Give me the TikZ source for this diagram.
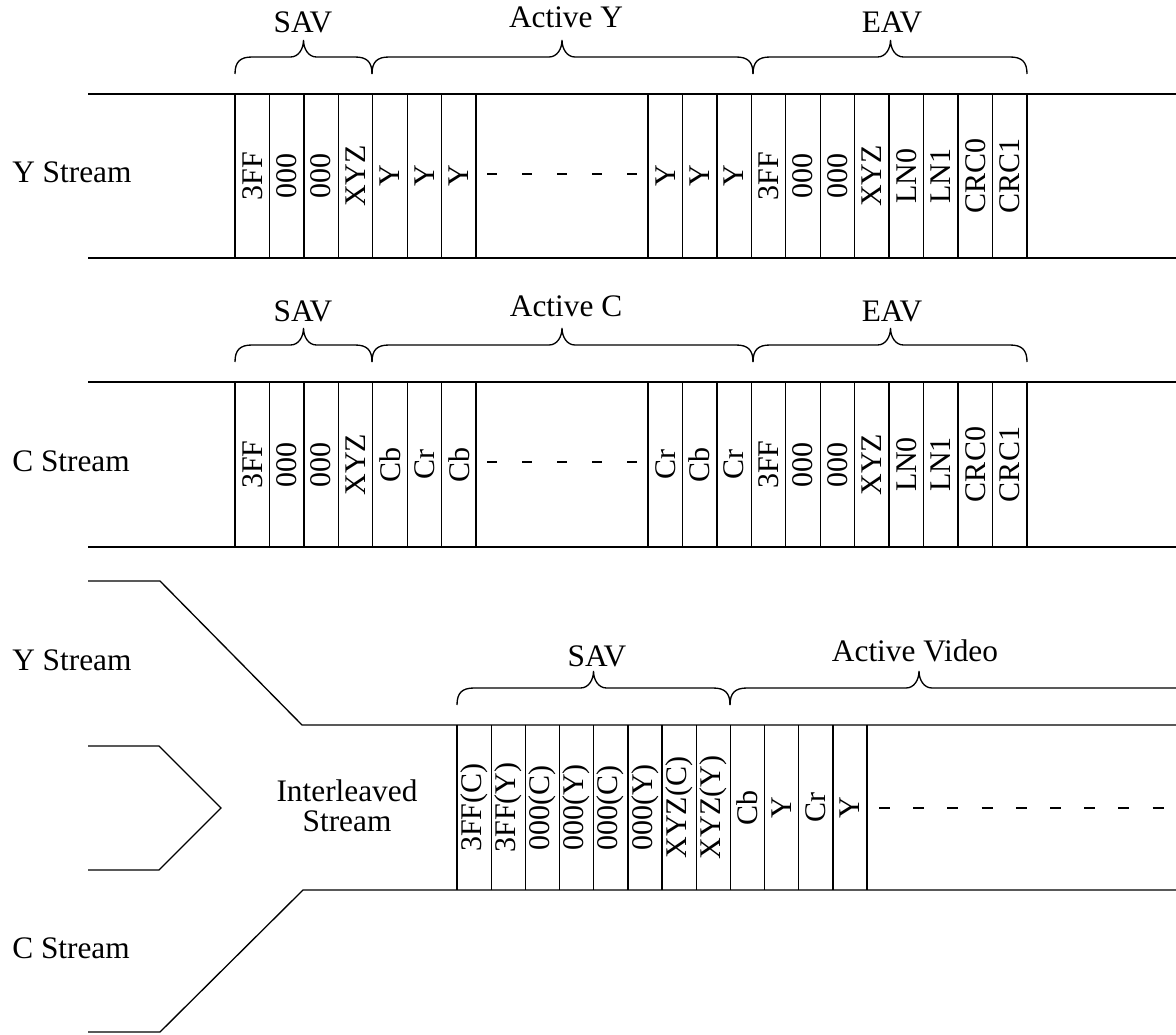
\documentclass[tikz,border=0pt]{standalone}
\usepackage{fontspec}
\setmainfont{Liberation Serif}
\newcommand\cellfont{\fontsize{22.5}{26}\selectfont}
\newcommand\lblfont{\fontsize{23.5}{22.5}\selectfont}
\tikzset{
  ln/.style={line width=1pt, line join=miter},
  brc/.style={line width=1pt},
  cell/.style={rotate=90, minimum width=123.4pt, minimum height=25.8pt, inner sep=0pt, font=\cellfont},
  lbl/.style={font=\lblfont, inner sep=0pt, anchor=base},
  slbl/.style={font=\lblfont, inner sep=0pt, anchor=base west},
}
% brace: #1 left x, #2 peak x, #3 right x, #4 tip y (pixel units, y downward)
\newcommand\mybrace[4]{%
  \draw[brc] (#1,#4) .. controls (#1,{#4-12}) and ({#1+5},{#4-17}) .. ({#1+17},{#4-17})
    -- ({#2-13},{#4-17}) .. controls ({#2-5},{#4-17}) and (#2,{#4-25}) .. (#2,{#4-34})
    .. controls (#2,{#4-25}) and ({#2+5},{#4-17}) .. ({#2+13},{#4-17})
    -- ({#3-17},{#4-17}) .. controls ({#3-5},{#4-17}) and (#3,{#4-12}) .. (#3,#4);}
\begin{document}
\begin{tikzpicture}[x=0.75pt,y=-0.75pt]
\path[use as bounding box] (0,0) rectangle (1176,1034);
\clip (0,0) rectangle (1176,1034);

% ---------- Row 1: Y stream ----------
\node[slbl] (ylab1) at (12,183) {Y Stream};
\draw[ln] (88,94) -- (1176,94);
\draw[ln] (88,258) -- (1176,258);
\foreach \t [count=\i from 0] in {3FF,000,000,XYZ,Y,Y,Y}
  \node[cell] (ya\i) at ({235+(\i+0.5)*34.45},176) {\t};
\foreach \t [count=\i from 0] in {Y,Y,Y,3FF,000,000,XYZ,LN0,LN1,CRC0,CRC1}
  \node[cell] (yb\i) at ({648+(\i+0.5)*34.45},176) {\t};
\foreach \i in {0,...,7}
  \draw[ln] ({235+\i*34.45},94) -- ({235+\i*34.45},258);
\foreach \i in {0,...,11}
  \draw[ln] ({648+\i*34.45},94) -- ({648+\i*34.45},258);
\foreach \k in {0,...,4}
  \draw[ln] ({487+35*\k},174) -- ({497+35*\k},174);
\mybrace{235}{303.5}{372}{74}
\mybrace{372}{562}{753}{74}
\mybrace{753}{890.5}{1027}{74}
\node[lbl] (sav1) at (303,33) {SAV};
\node[lbl] (act1) at (566,28) {Active Y};
\node[lbl] (eav1) at (892,33) {EAV};

% ---------- Row 2: C stream ----------
\node[slbl] (clab1) at (12,471) {C Stream};
\draw[ln] (88,382) -- (1176,382);
\draw[ln] (88,547) -- (1176,547);
\foreach \t [count=\i from 0] in {3FF,000,000,XYZ,Cb,Cr,Cb}
  \node[cell] (ca\i) at ({235+(\i+0.5)*34.45},464.5) {\t};
\foreach \t [count=\i from 0] in {Cr,Cb,Cr,3FF,000,000,XYZ,LN0,LN1,CRC0,CRC1}
  \node[cell] (cb\i) at ({648+(\i+0.5)*34.45},464.5) {\t};
\foreach \i in {0,...,7}
  \draw[ln] ({235+\i*34.45},382) -- ({235+\i*34.45},547);
\foreach \i in {0,...,11}
  \draw[ln] ({648+\i*34.45},382) -- ({648+\i*34.45},547);
\foreach \k in {0,...,4}
  \draw[ln] ({487+35*\k},462) -- ({497+35*\k},462);
\mybrace{235}{303.5}{372}{362}
\mybrace{372}{562}{753}{362}
\mybrace{753}{890.5}{1027}{362}
\node[lbl] (sav2) at (303,321) {SAV};
\node[lbl] (act2) at (566,316) {Active C};
\node[lbl] (eav2) at (892,321) {EAV};

% ---------- Row 3: interleaving ----------
\node[slbl] (ylab2) at (12,670) {Y Stream};
\node[slbl] (clab2) at (12,958) {C Stream};
\node[font=\lblfont, inner sep=0pt, align=center] (inter) at (347,806) {Interleaved\\Stream};
\draw[ln] (88,581) -- (160,581) -- (302,725) -- (1176,725);
\draw[ln] (88,746) -- (159,746) -- (221,808) -- (159,870) -- (88,870);
\draw[ln] (88,1032) -- (160,1032) -- (303,890) -- (1176,890);
\foreach \t [count=\i from 0] in {3FF(C),3FF(Y),000(C),000(Y),000(C),000(Y),XYZ(C),XYZ(Y),Cb,Y,Cr,Y}
  \node[cell, minimum width=123.75pt, minimum height=25.6pt] (ic\i) at ({457+(\i+0.5)*34.17},807.5) {\t};
\foreach \i in {0,...,12}
  \draw[ln] ({457+\i*34.17},725) -- ({457+\i*34.17},890);
\foreach \k in {0,...,8}
  \draw[ln] ({879+34.2*\k},808) -- ({890+34.2*\k},808);
\mybrace{457}{593.5}{730}{705}
\mybrace{730}{919}{1400}{705}
\node[lbl] (sav3) at (597,666) {SAV};
\node[lbl] (act3) at (915,661) {Active Video};
\end{tikzpicture}
\end{document}
